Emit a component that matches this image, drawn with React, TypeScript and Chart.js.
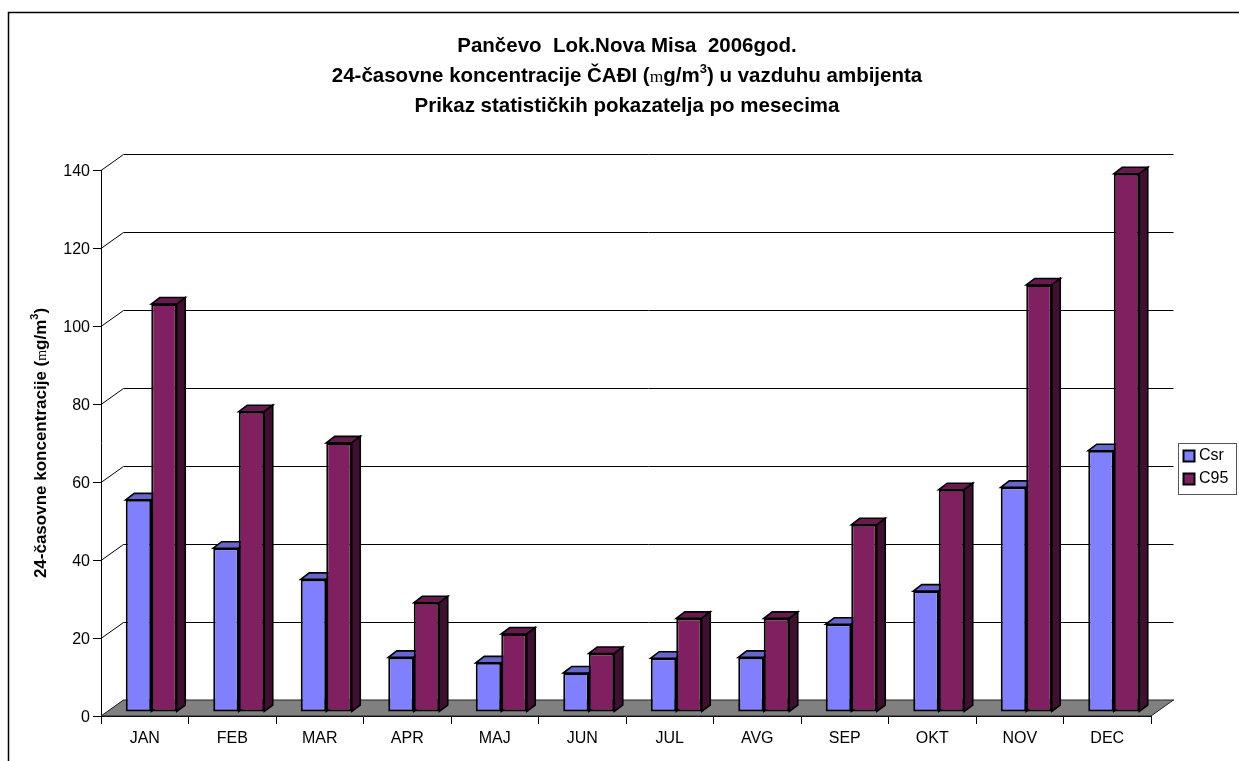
import React, { useEffect, useRef } from "react";
import { Chart, registerables } from "chart.js";

Chart.register(...registerables);

const categories = ["JAN", "FEB", "MAR", "APR", "MAJ", "JUN", "JUL", "AVG", "SEP", "OKT", "NOV", "DEC"];
const csr = [54.4, 42, 34, 14, 12.6, 10, 13.8, 14, 22.5, 31, 57.6, 67];
const c95 = [104.6, 77, 69, 28, 20, 15, 24, 24, 48, 57, 109.5, 138];
const yTickValues = [0, 20, 40, 60, 80, 100, 120, 140];

type Seg = { t: string; mu?: boolean; sup?: boolean };
const titleLine1: Seg[] = [{ t: "Pančevo  Lok.Nova Misa  2006god." }];
const titleLine2: Seg[] = [
  { t: "24-časovne koncentracije ČAĐI (" },
  { t: "m", mu: true },
  { t: "g/m" },
  { t: "3", sup: true },
  { t: ") u vazduhu ambijenta" },
];
const titleLine3: Seg[] = [{ t: "Prikaz statističkih pokazatelja po mesecima" }];
const yTitle: Seg[] = [
  { t: "24-časovne koncentracije (" },
  { t: "m", mu: true },
  { t: "g/m" },
  { t: "3", sup: true },
  { t: ")" },
];

const FONT = '"Liberation Sans", Arial, sans-serif';
const DEPTH_X = 22.5;
const DEPTH_Y = 16;
const BAR_DX = 6.5;
const BAR_DY = -4;
const FACE_X = 8.5;
const FACE_Y = 6.5;

const segFont = (s: Seg, size: number) => {
  if (s.mu) return `${size - 3}px "Liberation Serif", serif`;
  if (s.sup) return `bold ${Math.round(size * 0.65)}px ${FONT}`;
  return `bold ${size}px ${FONT}`;
};

function drawRich(ctx: CanvasRenderingContext2D, segs: Seg[], cx: number, cy: number, size: number) {
  ctx.textBaseline = "alphabetic";
  ctx.textAlign = "left";
  ctx.fillStyle = "#000";
  let total = 0;
  for (const s of segs) {
    ctx.font = segFont(s, size);
    total += ctx.measureText(s.t).width;
  }
  let x = cx - total / 2;
  const base = cy + size * 0.36;
  for (const s of segs) {
    ctx.font = segFont(s, size);
    ctx.fillText(s.t, x, s.sup ? base - size * 0.46 : base);
    x += ctx.measureText(s.t).width;
  }
}

const excelPlugin = {
  id: "excel3d",
  afterLayout(chart: any) {
    const lg = chart.legend;
    if (lg) {
      lg.left = 1180;
      lg.right = 1236;
      lg.top = 441;
      lg.bottom = 494;
    }
    const yS = chart.scales.y;
    if (yS && !yS.__shifted) {
      yS.__shifted = true;
      const orig = yS.drawLabels;
      yS.drawLabels = function (area: any) {
        chart.ctx.save();
        chart.ctx.translate(0, 1.5);
        orig.call(this, area);
        chart.ctx.restore();
      };
    }
  },
  beforeDatasetsDraw(chart: any) {
    const ctx: CanvasRenderingContext2D = chart.ctx;
    const { left, right, bottom } = chart.chartArea;
    const yScale = chart.scales.y;

    // Outer frame
    ctx.save();
    ctx.strokeStyle = "#000";
    ctx.lineWidth = 1.5;
    ctx.beginPath();
    ctx.moveTo(8.5, 761);
    ctx.lineTo(8.5, 12.5);
    ctx.lineTo(1239, 12.5);
    ctx.stroke();

    // Titles
    drawRich(ctx, titleLine1, 627, 45, 20.5);
    drawRich(ctx, titleLine2, 627, 75, 20.5);
    drawRich(ctx, titleLine3, 627, 105, 20.5);
    ctx.save();
    ctx.translate(40, 443);
    ctx.rotate(-Math.PI / 2);
    drawRich(ctx, yTitle, 0, 0, 17);
    ctx.restore();

    // Legend box
    ctx.strokeStyle = "#555";
    ctx.lineWidth = 1;
    ctx.strokeRect(1178.5, 443.5, 58, 51);

    // Wall gridlines with the side-wall diagonal
    ctx.strokeStyle = "#000";
    ctx.lineWidth = 1;
    for (const v of yTickValues) {
      const py = Math.round(yScale.getPixelForValue(v)) + 0.5;
      ctx.beginPath();
      ctx.moveTo(left, py);
      ctx.lineTo(left + DEPTH_X, py - DEPTH_Y);
      ctx.lineTo(right + DEPTH_X, py - DEPTH_Y);
      ctx.stroke();
    }

    // Floor
    ctx.fillStyle = "#808080";
    ctx.strokeStyle = "#222";
    ctx.beginPath();
    ctx.moveTo(left, bottom);
    ctx.lineTo(left + DEPTH_X, bottom - DEPTH_Y);
    ctx.lineTo(right + DEPTH_X, bottom - DEPTH_Y);
    ctx.lineTo(right, bottom);
    ctx.closePath();
    ctx.fill();
    ctx.stroke();
    ctx.restore();

    // Shift bars onto the floor, then draw their side and top faces
    ctx.save();
    ctx.translate(BAR_DX, BAR_DY);
    const faces = [
      { top: "#6666CC", side: "#404080" },
      { top: "#661A4D", side: "#401030" },
    ];
    chart.data.datasets.forEach((_: any, i: number) => {
      const meta = chart.getDatasetMeta(i);
      for (const bar of meta.data) {
        const { x, y, base, width } = bar.getProps(["x", "y", "base", "width"], true);
        const l = x - width / 2;
        const r = x + width / 2;
        ctx.strokeStyle = "#000";
        ctx.lineWidth = 1.6;
        ctx.lineJoin = "miter";
        ctx.fillStyle = faces[i].top;
        ctx.beginPath();
        ctx.moveTo(l, y);
        ctx.lineTo(l + FACE_X, y - FACE_Y);
        ctx.lineTo(r + FACE_X, y - FACE_Y);
        ctx.lineTo(r, y);
        ctx.closePath();
        ctx.fill();
        ctx.stroke();
        ctx.fillStyle = faces[i].side;
        ctx.beginPath();
        ctx.moveTo(r, y);
        ctx.lineTo(r + FACE_X, y - FACE_Y);
        ctx.lineTo(r + FACE_X, base - FACE_Y);
        ctx.lineTo(r, base);
        ctx.closePath();
        ctx.fill();
        ctx.stroke();
      }
    });
  },
  afterDatasetsDraw(chart: any) {
    chart.ctx.restore();
  },
};

export default function App() {
  const ref = useRef<HTMLCanvasElement>(null);
  useEffect(() => {
    if (!ref.current) return;
    const chart = new Chart(ref.current, {
      type: "bar",
      data: {
        labels: categories,
        datasets: [
          { label: "Csr", data: csr, backgroundColor: "#8080FF", borderColor: "#000", borderWidth: 2, borderSkipped: false, clip: false } as any,
          { label: "C95", data: c95, backgroundColor: "#802060", borderColor: "#000", borderWidth: 2, borderSkipped: false, clip: false } as any,
        ],
      },
      options: {
        responsive: false,
        animation: false,
        devicePixelRatio: 1,
        layout: { padding: { top: 170, right: 88, left: 0, bottom: 0 } },
        font: { family: FONT, size: 16 },
        datasets: { bar: { categoryPercentage: 0.583, barPercentage: 1 } },
        scales: {
          x: {
            afterFit: (s: any) => { s.height = 45; },
            offset: true,
            border: { display: true, color: "#000", width: 1 },
            grid: { display: true, drawOnChartArea: false, offset: true, tickLength: 8, color: "#000" },
            ticks: { color: "#000", padding: 5, maxRotation: 0, font: { family: FONT, size: 16 } },
          },
          y: {
            min: 0,
            max: 140,
            afterFit: (s: any) => { s.width = 101; },
            border: { display: true, color: "#000", width: 1 },
            grid: { display: true, drawOnChartArea: false, tickLength: 8, color: "#000" },
            ticks: { stepSize: 20, color: "#000", padding: 3, font: { family: FONT, size: 16 } },
          },
        },
        plugins: {
          title: { display: false },
          tooltip: { enabled: false },
          legend: {
            display: true,
            position: "chartArea",
            align: "start",
            labels: {
              usePointStyle: true,
              pointStyle: "rect",
              boxWidth: 4,
              boxHeight: 11,
              padding: 7,
              color: "#000",
              font: { family: FONT, size: 16 },
            },
          },
        },
      } as any,
      plugins: [excelPlugin],
    });
    return () => chart.destroy();
  }, []);
  return (
    <div style={{ position: "fixed", left: 0, top: 0, width: 1239, height: 761, background: "#fff" }}>
      <canvas ref={ref} width={1239} height={761} style={{ display: "block" }} />
    </div>
  );
}
